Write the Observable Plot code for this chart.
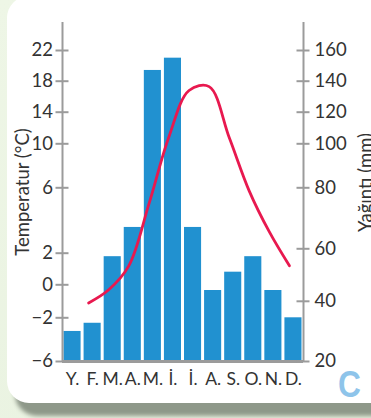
<!DOCTYPE html>
<html><head><meta charset="utf-8">
<script src="https://cdn.jsdelivr.net/npm/d3@7"></script>
<script src="https://cdn.jsdelivr.net/npm/@observablehq/plot@0.6"></script>
<style>
html,body{margin:0;padding:0;}
body{width:371px;height:418px;overflow:hidden;position:relative;background:linear-gradient(135deg,#eef6e6,#e7f1de);}
#panel{position:absolute;left:7px;top:-4px;width:384px;height:407px;border-radius:22px;background:#fff;box-shadow:8px 13px 4px #8e9889;}
#chart{position:absolute;left:0;top:0;}
#tag{position:absolute;left:338px;top:367px;font:bold 36px "Liberation Sans",sans-serif;line-height:36px;color:#8ec4ea;transform:scaleX(0.88);transform-origin:left top;}
</style></head>
<body><div id="panel"></div><div id="chart"></div><div id="tag">C</div>
<script>
const months = ["Y.","F.","M.","A.","M.","İ.","İ.","A.","S.","O.","N.","D."];
const precipitation = [31, 34, 57, 67, 147, 155, 67, 44, 51, 57, 44, 36];
const temperature = [null, -1.1, -0.3, 1.2, 5.0, 10.9, 16.8, 17.3, 10.8, 5.8, 3.3, 1.2];
const tempTicks = [-6, -2, 0, 2, 6, 10, 14, 18, 22];
const precipTicks = [20, 40, 60, 80, 100, 120, 140, 160];
// temperature level at which each precipitation tick sits (shared axis height)
const precipTickLevels = [-6, -1.0, 2.27, 6, 10, 14, 18, 22];
// pixel position of each temperature tick (non-uniform axis)
const tempTickPixels = [361, 317.3, 284.3, 252.7, 187.3, 143.3, 111.7, 80.7, 50];

const precipToTemp = d3.scaleLinear(precipTicks, precipTickLevels);
const rows = months.map((m, i) => ({i: i + 1, m, p: precipitation[i], t: temperature[i]}));
const lineRows = rows.filter(d => d.t != null);
const fmt = d => d < 0 ? "\u2212" + Math.abs(d) : String(d);

const axisColor = "#9b9b9b", ink = "#333";

const chart = Plot.plot({
  width: 371, height: 418,
  marginLeft: 62, marginRight: 68, marginTop: 22, marginBottom: 57,
  style: {background: "transparent", fontFamily: "Lato, sans-serif", fontSize: "18.5px", overflow: "visible"},
  x: {type: "linear", domain: [0.5, 12.5], axis: null},
  y: {type: "linear", domain: tempTicks, range: tempTickPixels, axis: null},
  marks: [
    Plot.rect(rows, {x1: d => d.i - 0.5, x2: d => d.i + 0.5, y1: -6, y2: d => precipToTemp(d.p), fill: "#2191d0", insetLeft: 1.5, insetRight: 1.5}),
    Plot.line(lineRows, {x: "i", y: "t", stroke: "#e8194f", strokeWidth: 2.8, curve: "catmull-rom", dx: -4}),
    Plot.ruleY([-6], {stroke: axisColor, strokeWidth: 3}),
    Plot.ruleX([0.5, 12.5], {y1: 22, y2: -6, insetTop: -28, stroke: axisColor, strokeWidth: 2}),
    Plot.ruleY(tempTicks, {x1: 0.5, x2: 0.5, insetLeft: -6.5, insetRight: -6.5, stroke: axisColor, strokeWidth: 2}),
    Plot.ruleY(precipTicks, {y: d => precipToTemp(d), x1: 12.5, x2: 12.5, insetLeft: -6.5, insetRight: -6.5, stroke: axisColor, strokeWidth: 2}),
    Plot.text(tempTicks, {x: 0.5, y: d => d, text: d => fmt(d), textAnchor: "end", dx: -9.5, fill: ink}),
    Plot.text(precipTicks, {x: 12.5, y: d => precipToTemp(d), text: d => String(d), textAnchor: "start", dx: 11, fill: ink}),
    Plot.text(rows, {x: "i", y: -6, text: "m", dy: 18, fill: ink, fontSize: 17.5}),
    Plot.text(["Temperatur (°C)"], {frameAnchor: "left", rotate: -90, dx: -34, textAnchor: "middle", lineAnchor: "bottom", fill: ink, fontSize: 18.5}),
    Plot.text(["Yağıntı (mm)"], {frameAnchor: "right", rotate: -90, dx: 68, dy: -9.5, textAnchor: "middle", lineAnchor: "bottom", fill: ink, fontSize: 18.5})
  ]
});
document.getElementById("chart").append(chart);
</script></body></html>
